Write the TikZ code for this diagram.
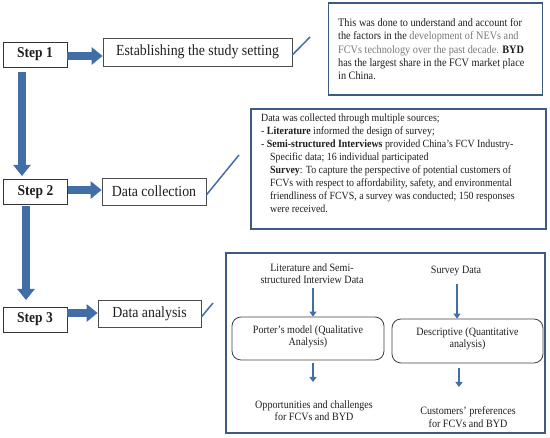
\documentclass[tikz,border=0pt]{standalone}
\usepackage{fontspec}
\setmainfont{Liberation Serif}[FakeStretch=0.9]
\usetikzlibrary{arrows.meta}
\definecolor{arrowblue}{RGB}{66,110,168}
\definecolor{boxblue}{RGB}{60,90,130}
\definecolor{txtgray}{RGB}{120,120,120}
\definecolor{txtdark}{RGB}{30,30,30}
\begin{document}
\begin{tikzpicture}[x=1pt,y=-1pt,
  stepbox/.style={draw=black!80, line width=0.9pt, minimum width=64pt, minimum height=25pt,
    inner sep=0pt, font=\fontsize{15}{17}\selectfont\bfseries, text=txtdark},
  labelbox/.style={draw=black!70, line width=0.7pt, inner sep=0pt,
    font=\fontsize{15.4}{17}\selectfont, text=txtdark},
  infobox/.style={draw=boxblue, line width=1.8pt, inner sep=0pt},
  roundbox/.style={draw=black!75, line width=0.8pt, rounded corners=9pt, inner sep=0pt},
  bigarrow/.style={draw=arrowblue, line width=8pt, -{Triangle[length=11pt,width=17pt]}},
  smallarrow/.style={draw=arrowblue, line width=2.4pt, -{Triangle[length=5pt,width=7pt]}},
  linkline/.style={draw=arrowblue, line width=1.5pt},
  txt/.style={inner sep=0pt, text=txtdark, font=\fontsize{11.2}{12.3}\selectfont, align=center},
]
\useasboundingbox (0,0) rectangle (550,438);

% steps
\node[stepbox] (s1) at (35,54.5) {Step 1};
\node[stepbox] (s2) at (35.5,192) {Step 2};
\node[stepbox] (s3) at (35,319.5) {Step 3};

% labels
\node[labelbox, minimum width=189pt, minimum height=28pt] (est) at (197.5,52) {Establishing the study setting};
\node[labelbox, minimum width=104pt, minimum height=27pt] (dc) at (154,191.5) {Data collection};
\node[labelbox, minimum width=103pt, minimum height=27pt] (da) at (149.5,313.5) {Data analysis};

% horizontal arrows
\draw[bigarrow] (s1.east |- 0,56) -- (est.west |- 0,56);
\draw[bigarrow] (s2.east |- 0,190) -- (dc.west |- 0,190);
\draw[bigarrow] (s3.east |- 0,313) -- (da.west |- 0,313);

% vertical arrows
\coordinate (v1a) at (22,72);
\coordinate (v1b) at (22,176);
\coordinate (v2a) at (26,206);
\coordinate (v2b) at (26,300);
\draw[bigarrow] (v1a) -- (v1b);
\draw[bigarrow] (v2a) -- (v2b);

% info boxes
\node[infobox, minimum width=214pt, minimum height=92pt] (tr) at (435.5,49) {};
\node[infobox, minimum width=295pt, minimum height=120pt] (db) at (398.5,169) {};
\node[infobox, minimum width=319pt, minimum height=180pt] (an) at (385.5,343) {};

% link lines
\coordinate (l1) at (310,37);
\coordinate (l2) at (239,155);
\coordinate (l3) at (213,303);
\draw[linkline] (est.east |- 0,55) -- (l1);
\draw[linkline] (dc.east |- 0,195) -- (l2);
\draw[linkline] (da.east |- 0,317) -- (l3);

% top right text
\node[inner sep=0pt, anchor=north west, align=left, text=txtdark,
  font=\fontsize{11.4}{13.4}\selectfont] (trt) at (338,18)
{This was done to understand and account for\\
the factors in the \textcolor{txtgray}{development of NEVs and}\\
\textcolor{txtgray}{FCVs technology over the past decade.} \textbf{BYD}\\
has the largest share in the FCV market place\\
in China.};

% data box text
\node[inner sep=0pt, anchor=north west, align=left, text=txtdark,
  font=\fontsize{11}{13}\selectfont] (dbt) at (261,114)
{Data was collected through multiple sources;\\
- \textbf{Literature} informed the design of survey;\\
- \textbf{Semi-structured Interviews} provided China’s FCV Industry-\\
\hspace*{9pt}Specific data; 16 individual participated\\
\hspace*{9pt}\textbf{Survey}: To capture the perspective of potential customers of\\
\hspace*{9pt}FCVs with respect to affordability, safety, and environmental\\
\hspace*{9pt}friendliness of FCVS, a survey was conducted; 150 responses\\
\hspace*{9pt}were received.};

% analysis box contents
\node[txt] (lit) at (312,274) {Literature and Semi-\\structured Interview Data};
\node[txt] (sur) at (456,271) {Survey Data};
\node[roundbox, minimum width=152pt, minimum height=43pt] (por) at (308,338.5) {};
\node[txt] (port) at (308,337) {Porter’s model (Qualitative\\Analysis)};
\node[roundbox, minimum width=151pt, minimum height=44pt] (des) at (467.5,341) {};
\node[txt] (dest) at (467.5,339) {Descriptive (Quantitative\\analysis)};
\node[txt] (opp) at (314,411) {Opportunities and challenges\\for FCVs and BYD};
\node[txt] (cus) at (468,417) {Customers’ preferences\\for FCVs and BYD};

\draw[smallarrow] (313,288) -- (por.north -| 313,0);
\draw[smallarrow] (457,284) -- (des.north -| 457,0);
\draw[smallarrow] (313,363) -- (313,382);
\draw[smallarrow] (459,368) -- (459,387);
\end{tikzpicture}
\end{document}
